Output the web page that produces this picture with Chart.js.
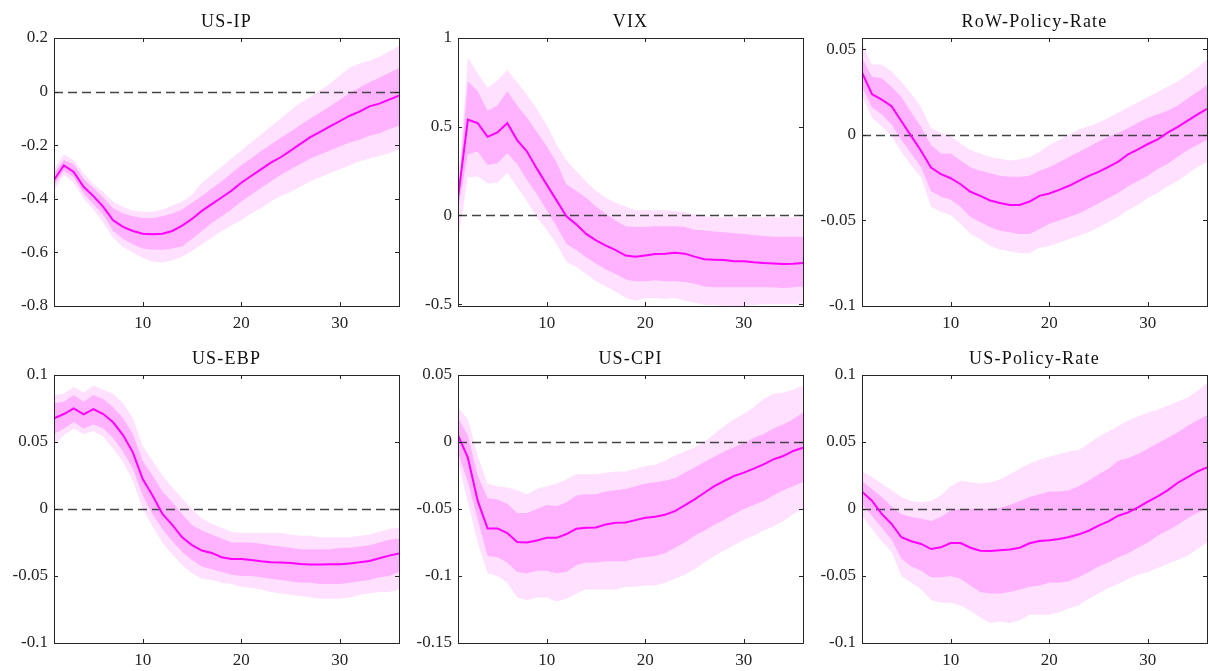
<!DOCTYPE html>
<html>
<head>
<meta charset="utf-8">
<script src="https://cdn.jsdelivr.net/npm/chart.js@4.4.1/dist/chart.umd.min.js"></script>
<style>
  html, body { margin: 0; padding: 0; background: #ffffff; }
  #wrap { position: relative; width: 1210px; height: 671px; overflow: hidden; }
  #wrap canvas { position: absolute; }
</style>
</head>
<body>
<div id="wrap"></div>
<script>
// horizons (months)
const horizons = [1, 2, 3, 4, 5, 6, 7, 8, 9, 10, 11, 12, 13, 14, 15, 16, 17, 18,
  19, 20, 21, 22, 23, 24, 25, 26, 27, 28, 29, 30, 31, 32, 33, 34, 35, 36];
const xTicks = [10, 20, 30];

// US-IP
const ipMedian = [-0.33, -0.275, -0.30, -0.355, -0.39, -0.43, -0.48, -0.505, -0.52, -0.53, -0.532, -0.53, -0.52, -0.50, -0.475, -0.445, -0.42, -0.395, -0.37, -0.34, -0.315, -0.29, -0.265, -0.245, -0.22, -0.195, -0.17, -0.15, -0.13, -0.11, -0.09, -0.075, -0.055, -0.045, -0.03, -0.015];
const ipHi68 = [-0.305, -0.255, -0.27, -0.325, -0.36, -0.395, -0.435, -0.455, -0.465, -0.472, -0.472, -0.465, -0.455, -0.44, -0.415, -0.39, -0.362, -0.335, -0.305, -0.275, -0.25, -0.222, -0.197, -0.172, -0.15, -0.125, -0.10, -0.078, -0.055, -0.03, -0.005, 0.015, 0.035, 0.052, 0.07, 0.088];
const ipLo68 = [-0.35, -0.295, -0.32, -0.38, -0.42, -0.46, -0.52, -0.55, -0.57, -0.585, -0.59, -0.59, -0.585, -0.578, -0.55, -0.52, -0.49, -0.465, -0.44, -0.41, -0.385, -0.36, -0.335, -0.31, -0.29, -0.27, -0.25, -0.235, -0.22, -0.205, -0.19, -0.18, -0.165, -0.155, -0.14, -0.128];
const ipHi90 = [-0.29, -0.235, -0.255, -0.305, -0.345, -0.375, -0.41, -0.43, -0.445, -0.448, -0.448, -0.44, -0.425, -0.41, -0.385, -0.34, -0.31, -0.28, -0.25, -0.22, -0.19, -0.16, -0.13, -0.10, -0.07, -0.042, -0.02, 0.005, 0.03, 0.06, 0.09, 0.105, 0.115, 0.13, 0.15, 0.17];
const ipLo90 = [-0.37, -0.31, -0.34, -0.40, -0.44, -0.49, -0.545, -0.58, -0.60, -0.62, -0.635, -0.638, -0.63, -0.615, -0.595, -0.57, -0.545, -0.52, -0.50, -0.48, -0.455, -0.435, -0.41, -0.39, -0.375, -0.355, -0.335, -0.32, -0.305, -0.29, -0.275, -0.26, -0.25, -0.24, -0.23, -0.215];
const ipTicks = [-0.8, -0.6, -0.4, -0.2, 0, 0.2];
const ipTickLabels = ["-0.8", "-0.6", "-0.4", "-0.2", "0", "0.2"];

// VIX
const vixMedian = [0.10, 0.54, 0.52, 0.443, 0.468, 0.52, 0.425, 0.36, 0.264, 0.174, 0.085, -0.005, -0.05, -0.104, -0.14, -0.17, -0.195, -0.226, -0.232, -0.225, -0.217, -0.215, -0.21, -0.215, -0.232, -0.247, -0.249, -0.251, -0.258, -0.258, -0.264, -0.268, -0.27, -0.274, -0.272, -0.268];
const vixHi68 = [0.12, 0.755, 0.70, 0.59, 0.62, 0.70, 0.62, 0.55, 0.47, 0.39, 0.30, 0.175, 0.14, 0.10, 0.05, 0.01, -0.03, -0.06, -0.065, -0.065, -0.06, -0.06, -0.06, -0.065, -0.08, -0.085, -0.09, -0.095, -0.10, -0.105, -0.11, -0.115, -0.12, -0.12, -0.12, -0.12];
const vixLo68 = [0.03, 0.345, 0.36, 0.285, 0.295, 0.35, 0.29, 0.20, 0.12, 0.03, -0.06, -0.16, -0.195, -0.235, -0.27, -0.305, -0.33, -0.36, -0.37, -0.37, -0.365, -0.37, -0.37, -0.375, -0.385, -0.40, -0.405, -0.405, -0.405, -0.405, -0.405, -0.405, -0.405, -0.41, -0.405, -0.40];
const vixHi90 = [0.14, 0.89, 0.80, 0.72, 0.76, 0.82, 0.75, 0.68, 0.60, 0.51, 0.40, 0.31, 0.25, 0.19, 0.14, 0.10, 0.07, 0.05, 0.03, 0.03, 0.03, 0.03, 0.025, 0.02, 0.005, -0.005, -0.01, -0.01, -0.01, -0.01, -0.01, -0.01, -0.01, -0.01, -0.01, -0.01];
const vixLo90 = [-0.14, 0.215, 0.22, 0.18, 0.185, 0.24, 0.16, 0.08, -0.01, -0.08, -0.16, -0.26, -0.29, -0.33, -0.37, -0.40, -0.43, -0.465, -0.48, -0.465, -0.465, -0.47, -0.465, -0.48, -0.49, -0.505, -0.505, -0.51, -0.51, -0.51, -0.505, -0.50, -0.50, -0.50, -0.50, -0.495];
const vixTicks = [-0.5, 0, 0.5, 1];
const vixTickLabels = ["-0.5", "0", "0.5", "1"];

// RoW-Policy-Rate
const rowMedian = [0.0364, 0.0238, 0.0205, 0.0167, 0.0079, -0.0008, -0.0095, -0.0192, -0.023, -0.0254, -0.0289, -0.0333, -0.0357, -0.0384, -0.0399, -0.041, -0.041, -0.039, -0.0357, -0.0343, -0.0322, -0.0298, -0.0269, -0.024, -0.0217, -0.0188, -0.0157, -0.0114, -0.0085, -0.0054, -0.0027, 0.0012, 0.0045, 0.0081, 0.0118, 0.0151];
const rowHi68 = [0.045, 0.034, 0.033, 0.028, 0.022, 0.013, 0.0045, -0.006, -0.011, -0.011, -0.015, -0.019, -0.021, -0.0225, -0.024, -0.0245, -0.0245, -0.024, -0.021, -0.019, -0.016, -0.013, -0.010, -0.007, -0.004, -0.001, 0.001, 0.004, 0.007, 0.010, 0.012, 0.014, 0.017, 0.021, 0.025, 0.029];
const rowLo68 = [0.028, 0.016, 0.012, 0.006, -0.003, -0.011, -0.019, -0.033, -0.036, -0.038, -0.042, -0.048, -0.051, -0.054, -0.056, -0.057, -0.058, -0.058, -0.055, -0.052, -0.050, -0.048, -0.046, -0.043, -0.040, -0.037, -0.034, -0.030, -0.027, -0.024, -0.020, -0.017, -0.013, -0.009, -0.006, -0.003];
const rowHi90 = [0.054, 0.041, 0.041, 0.037, 0.031, 0.024, 0.016, 0.004, 0.001, -0.001, -0.005, -0.009, -0.011, -0.013, -0.014, -0.015, -0.0145, -0.013, -0.010, -0.006, -0.003, 0.000, 0.003, 0.005, 0.007, 0.010, 0.013, 0.016, 0.019, 0.022, 0.025, 0.028, 0.031, 0.035, 0.039, 0.044];
const rowLo90 = [0.023, 0.010, 0.005, -0.001, -0.010, -0.018, -0.025, -0.042, -0.045, -0.047, -0.052, -0.058, -0.061, -0.065, -0.067, -0.068, -0.069, -0.069, -0.066, -0.065, -0.063, -0.061, -0.059, -0.057, -0.054, -0.051, -0.048, -0.044, -0.041, -0.037, -0.034, -0.030, -0.027, -0.023, -0.019, -0.016];
const rowTicks = [-0.1, -0.05, 0, 0.05];
const rowTickLabels = ["-0.1", "-0.05", "0", "0.05"];

// US-EBP
const ebpMedian = [0.0677, 0.0709, 0.0751, 0.0706, 0.0746, 0.0709, 0.0647, 0.0552, 0.0423, 0.0224, 0.010, -0.0037, -0.0119, -0.0211, -0.0269, -0.031, -0.0328, -0.036, -0.0373, -0.0373, -0.038, -0.039, -0.0398, -0.040, -0.0403, -0.041, -0.0415, -0.0415, -0.0413, -0.0413, -0.0406, -0.0398, -0.0388, -0.0368, -0.0348, -0.0331];
const ebpHi68 = [0.079, 0.080, 0.085, 0.080, 0.085, 0.082, 0.076, 0.068, 0.056, 0.036, 0.025, 0.013, 0.005, -0.004, -0.012, -0.016, -0.019, -0.022, -0.025, -0.025, -0.025, -0.026, -0.027, -0.028, -0.029, -0.030, -0.030, -0.030, -0.030, -0.029, -0.029, -0.028, -0.027, -0.025, -0.023, -0.022];
const ebpLo68 = [0.056, 0.060, 0.065, 0.060, 0.063, 0.060, 0.053, 0.043, 0.030, 0.010, -0.004, -0.015, -0.024, -0.032, -0.038, -0.043, -0.045, -0.047, -0.049, -0.050, -0.050, -0.051, -0.052, -0.053, -0.054, -0.055, -0.055, -0.056, -0.056, -0.056, -0.055, -0.054, -0.053, -0.051, -0.050, -0.047];
const ebpHi90 = [0.085, 0.086, 0.091, 0.087, 0.092, 0.089, 0.086, 0.079, 0.068, 0.047, 0.036, 0.025, 0.016, 0.008, 0.000, -0.007, -0.011, -0.014, -0.017, -0.018, -0.018, -0.018, -0.018, -0.018, -0.019, -0.020, -0.020, -0.021, -0.021, -0.021, -0.021, -0.020, -0.019, -0.017, -0.015, -0.014];
const ebpLo90 = [0.048, 0.055, 0.060, 0.056, 0.058, 0.054, 0.045, 0.035, 0.021, 0.000, -0.013, -0.025, -0.034, -0.042, -0.048, -0.052, -0.053, -0.055, -0.056, -0.058, -0.059, -0.060, -0.062, -0.063, -0.064, -0.065, -0.066, -0.067, -0.067, -0.067, -0.066, -0.064, -0.063, -0.062, -0.062, -0.060];
const ebpTicks = [-0.1, -0.05, 0, 0.05, 0.1];
const ebpTickLabels = ["-0.1", "-0.05", "0", "0.05", "0.1"];

// US-CPI
const cpiMedian = [0.005, -0.0117, -0.044, -0.0645, -0.0645, -0.068, -0.0747, -0.075, -0.0735, -0.0715, -0.0715, -0.0687, -0.0648, -0.064, -0.0638, -0.0615, -0.0603, -0.060, -0.0583, -0.0565, -0.0558, -0.0543, -0.0516, -0.0473, -0.0428, -0.0379, -0.0329, -0.0291, -0.0254, -0.0229, -0.0199, -0.0167, -0.013, -0.0105, -0.0067, -0.0042];
const cpiHi68 = [0.018, 0.005, -0.025, -0.042, -0.043, -0.046, -0.053, -0.053, -0.050, -0.047, -0.048, -0.045, -0.040, -0.039, -0.039, -0.037, -0.036, -0.035, -0.033, -0.031, -0.030, -0.029, -0.027, -0.023, -0.019, -0.015, -0.011, -0.007, -0.004, -0.001, 0.003, 0.006, 0.010, 0.013, 0.017, 0.022];
const cpiLo68 = [-0.008, -0.030, -0.058, -0.085, -0.086, -0.090, -0.097, -0.098, -0.096, -0.096, -0.098, -0.097, -0.092, -0.090, -0.090, -0.089, -0.089, -0.089, -0.087, -0.086, -0.085, -0.083, -0.079, -0.075, -0.070, -0.066, -0.062, -0.058, -0.054, -0.050, -0.047, -0.044, -0.040, -0.036, -0.033, -0.030];
const cpiHi90 = [0.026, 0.017, -0.010, -0.031, -0.033, -0.034, -0.036, -0.039, -0.035, -0.033, -0.031, -0.028, -0.024, -0.024, -0.024, -0.023, -0.022, -0.022, -0.020, -0.018, -0.017, -0.014, -0.010, -0.007, -0.004, 0.000, 0.006, 0.012, 0.017, 0.021, 0.026, 0.032, 0.036, 0.037, 0.039, 0.042];
const cpiLo90 = [-0.015, -0.045, -0.075, -0.098, -0.100, -0.105, -0.116, -0.118, -0.116, -0.116, -0.119, -0.117, -0.113, -0.110, -0.110, -0.110, -0.110, -0.108, -0.108, -0.107, -0.107, -0.105, -0.102, -0.099, -0.095, -0.090, -0.085, -0.081, -0.077, -0.073, -0.070, -0.066, -0.063, -0.059, -0.054, -0.050];
const cpiTicks = [-0.15, -0.1, -0.05, 0, 0.05];
const cpiTickLabels = ["-0.15", "-0.1", "-0.05", "0", "0.05"];

// US-Policy-Rate
const usrMedian = [0.0129, 0.0062, -0.0037, -0.0112, -0.0211, -0.0241, -0.0261, -0.0299, -0.0286, -0.0254, -0.0254, -0.0289, -0.0311, -0.0313, -0.0308, -0.0303, -0.0289, -0.0256, -0.0239, -0.0234, -0.0224, -0.0209, -0.0189, -0.0162, -0.0124, -0.0092, -0.005, -0.0025, 0.0012, 0.0055, 0.0095, 0.0139, 0.0194, 0.0236, 0.0279, 0.0311];
const usrHi68 = [0.021, 0.015, 0.009, 0.002, -0.004, -0.006, -0.007, -0.009, -0.006, -0.001, 0.000, 0.000, 0.000, 0.000, 0.001, 0.003, 0.006, 0.009, 0.011, 0.013, 0.013, 0.014, 0.017, 0.021, 0.026, 0.030, 0.036, 0.038, 0.041, 0.045, 0.049, 0.053, 0.057, 0.062, 0.066, 0.070];
const usrLo68 = [0.004, -0.005, -0.014, -0.023, -0.037, -0.043, -0.046, -0.051, -0.051, -0.050, -0.052, -0.057, -0.062, -0.063, -0.063, -0.062, -0.060, -0.058, -0.057, -0.055, -0.055, -0.054, -0.051, -0.047, -0.043, -0.040, -0.036, -0.033, -0.029, -0.025, -0.020, -0.016, -0.012, -0.007, -0.003, 0.000];
const usrHi90 = [0.028, 0.024, 0.019, 0.014, 0.009, 0.006, 0.005, 0.006, 0.010, 0.017, 0.021, 0.020, 0.019, 0.020, 0.022, 0.026, 0.030, 0.034, 0.037, 0.039, 0.041, 0.043, 0.044, 0.049, 0.054, 0.058, 0.062, 0.066, 0.069, 0.072, 0.074, 0.077, 0.080, 0.083, 0.088, 0.094];
const usrLo90 = [-0.005, -0.015, -0.024, -0.032, -0.050, -0.055, -0.060, -0.068, -0.070, -0.070, -0.072, -0.076, -0.081, -0.085, -0.084, -0.085, -0.083, -0.079, -0.079, -0.079, -0.077, -0.074, -0.072, -0.067, -0.063, -0.059, -0.056, -0.052, -0.049, -0.047, -0.044, -0.041, -0.038, -0.035, -0.030, -0.025];
const usrTicks = [-0.1, -0.05, 0, 0.05, 0.1];
const usrTickLabels = ["-0.1", "-0.05", "0", "0.05", "0.1"];

const panels = [
  { title: "US-IP", median: ipMedian, hi68: ipHi68, lo68: ipLo68, hi90: ipHi90, lo90: ipLo90, ticks: ipTicks, labels: ipTickLabels, min: -0.8, max: 0.2 },
  { title: "VIX", median: vixMedian, hi68: vixHi68, lo68: vixLo68, hi90: vixHi90, lo90: vixLo90, ticks: vixTicks, labels: vixTickLabels, min: -0.51, max: 1 },
  { title: "RoW-Policy-Rate", median: rowMedian, hi68: rowHi68, lo68: rowLo68, hi90: rowHi90, lo90: rowLo90, ticks: rowTicks, labels: rowTickLabels, min: -0.1, max: 0.0565 },
  { title: "US-EBP", median: ebpMedian, hi68: ebpHi68, lo68: ebpLo68, hi90: ebpHi90, lo90: ebpLo90, ticks: ebpTicks, labels: ebpTickLabels, min: -0.1, max: 0.1 },
  { title: "US-CPI", median: cpiMedian, hi68: cpiHi68, lo68: cpiLo68, hi90: cpiHi90, lo90: cpiLo90, ticks: cpiTicks, labels: cpiTickLabels, min: -0.15, max: 0.05 },
  { title: "US-Policy-Rate", median: usrMedian, hi68: usrHi68, lo68: usrLo68, hi90: usrHi90, lo90: usrLo90, ticks: usrTicks, labels: usrTickLabels, min: -0.1, max: 0.1 }
];

const FONT = "'Liberation Serif', 'DejaVu Serif', serif";
const AXIS_COLOR = "#262626";
const LINE_COLOR = "#ff00ff";
const BAND68 = "#ffb3ff";
const BAND90 = "#ffe1ff";

const colLeft = [0, 404, 808];
const rowTop = [0, 337];

function toPoints(values) {
  return values.map((v, i) => ({ x: horizons[i], y: v }));
}

// title, zero line, box and inward ticks, like the matlab axes
const axesPlugin = {
  id: "matlabAxes",
  beforeDatasetDraw(chart, args) {
    if (args.index !== 0) {
      return;
    }
    const { ctx, chartArea } = chart;
    const y0 = Math.round(chart.scales.y.getPixelForValue(0)) + 0.5;
    ctx.save();
    ctx.strokeStyle = "#444444";
    ctx.lineWidth = 1.3;
    ctx.setLineDash([9, 5]);
    ctx.beginPath();
    ctx.moveTo(chartArea.left, y0);
    ctx.lineTo(chartArea.right, y0);
    ctx.stroke();
    ctx.restore();
  },
  afterDraw(chart, args, opts) {
    const { ctx, chartArea } = chart;
    const { left, right, top, bottom } = chartArea;
    const tick = 4;
    ctx.save();
    ctx.strokeStyle = AXIS_COLOR;
    ctx.lineWidth = 1;
    ctx.beginPath();
    chart.scales.x.ticks.forEach((t) => {
      const px = Math.round(chart.scales.x.getPixelForValue(t.value)) + 0.5;
      ctx.moveTo(px, bottom);
      ctx.lineTo(px, bottom - tick);
      ctx.moveTo(px, top);
      ctx.lineTo(px, top + tick);
    });
    chart.scales.y.ticks.forEach((t) => {
      const py = Math.round(chart.scales.y.getPixelForValue(t.value)) + 0.5;
      ctx.moveTo(left, py);
      ctx.lineTo(left + tick, py);
      ctx.moveTo(right, py);
      ctx.lineTo(right - tick, py);
    });
    ctx.stroke();
    ctx.strokeRect(Math.round(left) + 0.5, Math.round(top) + 0.5, Math.round(right - left), Math.round(bottom - top));

    ctx.fillStyle = "#111111";
    ctx.font = "18px " + FONT;
    ctx.letterSpacing = "1.2px";
    ctx.textAlign = "center";
    ctx.textBaseline = "alphabetic";
    ctx.fillText(opts.title, (left + right) / 2, top - 11);
    ctx.restore();
  }
};

function createPanel(panel, index) {
  const canvas = document.createElement("canvas");
  canvas.width = 407;
  canvas.height = 340;
  canvas.style.left = colLeft[index % 3] + "px";
  canvas.style.top = rowTop[Math.floor(index / 3)] + "px";
  canvas.style.width = "407px";
  canvas.style.height = "340px";
  document.getElementById("wrap").appendChild(canvas);

  const base = { pointRadius: 0, borderWidth: 0, tension: 0 };

  return new Chart(canvas, {
    type: "line",
    data: {
      datasets: [
        { ...base, label: "median", data: toPoints(panel.median), borderColor: LINE_COLOR, borderWidth: 2, fill: false, order: 0 },
        { ...base, label: "hi68", data: toPoints(panel.hi68), backgroundColor: BAND68, fill: 2, order: 1 },
        { ...base, label: "lo68", data: toPoints(panel.lo68), fill: false, order: 1 },
        { ...base, label: "hi90", data: toPoints(panel.hi90), backgroundColor: BAND90, fill: 4, order: 2 },
        { ...base, label: "lo90", data: toPoints(panel.lo90), fill: false, order: 2 }
      ]
    },
    options: {
      responsive: false,
      animation: false,
      devicePixelRatio: 1,
      layout: { padding: { top: 38, right: 8, left: 0, bottom: 0 } },
      plugins: {
        legend: { display: false },
        tooltip: { enabled: false },
        matlabAxes: { title: panel.title }
      },
      scales: {
        x: {
          type: "linear",
          min: 1,
          max: 36,
          grid: { display: false, drawTicks: false },
          border: { display: false },
          afterBuildTicks: (scale) => { scale.ticks = xTicks.map((v) => ({ value: v })); },
          afterFit: (scale) => { scale.height = 34; },
          ticks: {
            color: AXIS_COLOR,
            padding: 7,
            maxRotation: 0,
            font: { family: FONT, size: 17 },
            callback: (value) => String(value)
          }
        },
        y: {
          min: panel.min,
          max: panel.max,
          grid: { display: false, drawTicks: false },
          border: { display: false },
          afterBuildTicks: (scale) => { scale.ticks = panel.ticks.map((v) => ({ value: v })); },
          afterFit: (scale) => { scale.width = 54; },
          ticks: {
            color: AXIS_COLOR,
            padding: 6,
            font: { family: FONT, size: 17 },
            callback: (value, i) => panel.labels[i]
          }
        }
      }
    },
    plugins: [axesPlugin]
  });
}

panels.forEach(createPanel);
</script>
</body>
</html>
